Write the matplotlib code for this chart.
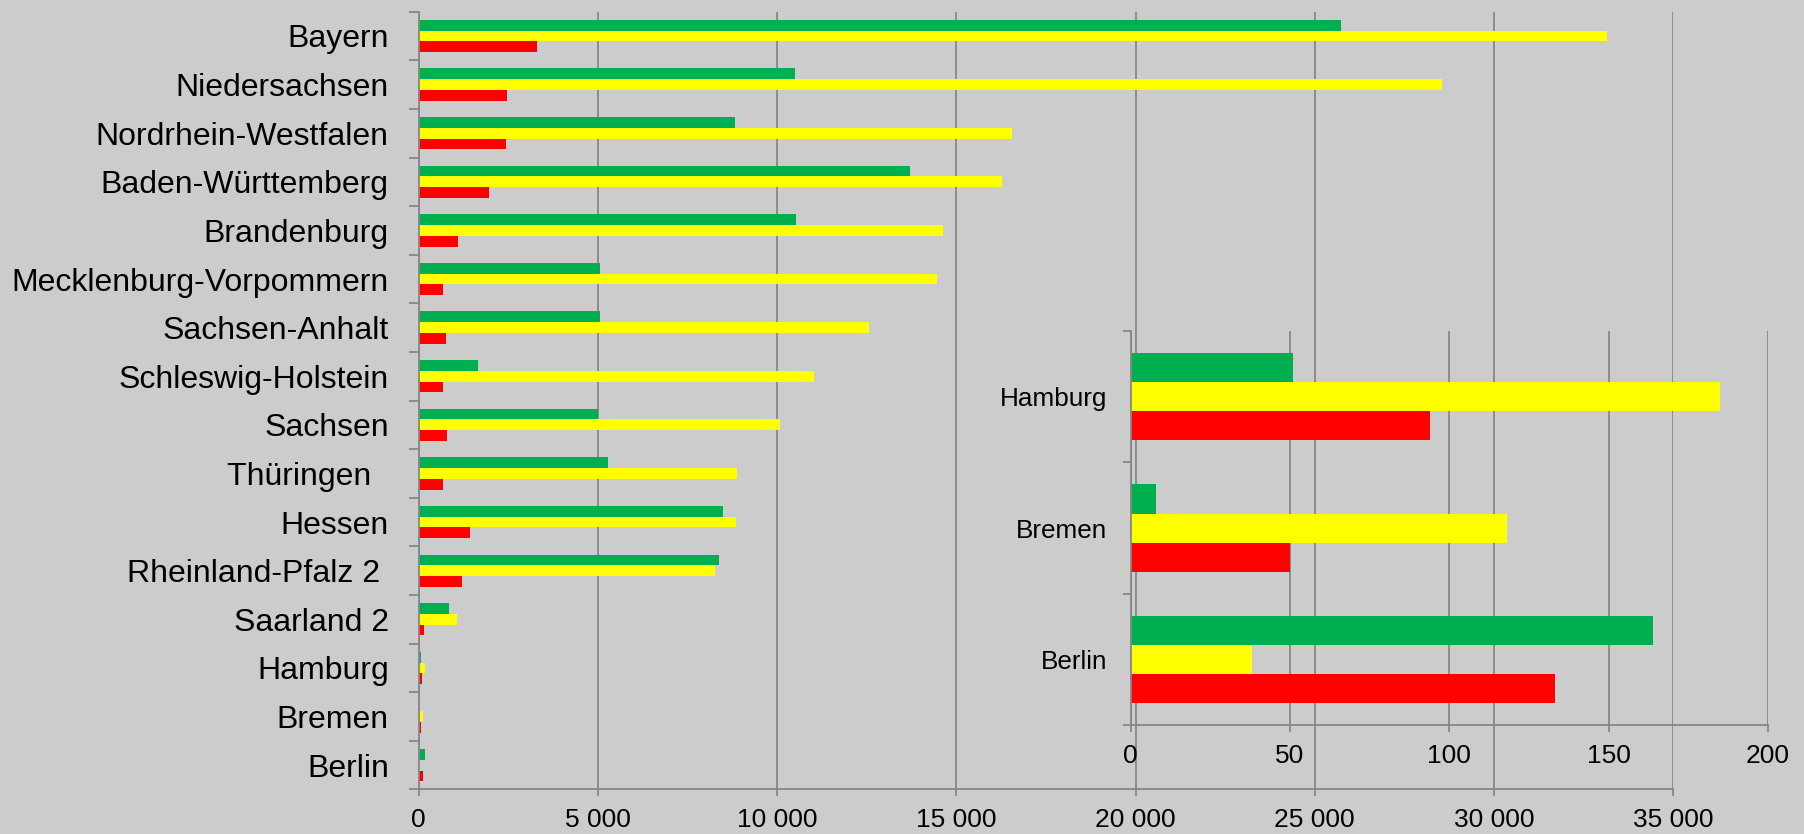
import matplotlib.pyplot as plt
import numpy as np
from matplotlib.ticker import FuncFormatter

plt.rcParams['font.family'] = ['Liberation Sans', 'DejaVu Sans']

# Hauptdiagramm: Bundesländer (oben -> unten)
laender = ["Bayern", "Niedersachsen", "Nordrhein-Westfalen", "Baden-Württemberg",
           "Brandenburg", "Mecklenburg-Vorpommern", "Sachsen-Anhalt", "Schleswig-Holstein",
           "Sachsen", "Thüringen  ", "Hessen", "Rheinland-Pfalz 2 ", "Saarland 2",
           "Hamburg", "Bremen", "Berlin"]
gruen = [25740, 10500, 8830, 13715, 10530, 5070, 5050, 1650,
         4990, 5290, 8480, 8370, 850, 51, 8, 164]
gelb = [33160, 28550, 16560, 16285, 14640, 14470, 12560, 11020,
        10070, 8890, 8850, 8260, 1075, 185, 118, 38]
rot = [3300, 2460, 2430, 1955, 1090, 670, 770, 690,
       785, 690, 1430, 1220, 145, 94, 50, 133]

# Ausschnitt Stadtstaaten
staedte = ["Hamburg", "Bremen", "Berlin"]
st_gruen = [51, 8, 164]
st_gelb = [185, 118, 38]
st_rot = [94, 50, 133]

hg = "#cccccc"
grau = "#878787"
c_gruen, c_gelb, c_rot = "#00b050", "#ffff00", "#ff0000"

def tausend(v, pos):
    return f"{v:,.0f}".replace(",", " ")

fig = plt.figure(figsize=(18.04, 8.34), dpi=100, facecolor=hg)

ax = fig.add_axes([0.2321, 0.0534, 0.6954, 0.9326])
ax.set_facecolor(hg)
y = np.arange(len(laender))
h = 0.2217
ax.barh(y - h, gruen, height=h, color=c_gruen, zorder=2)
ax.barh(y, gelb, height=h, color=c_gelb, zorder=2)
ax.barh(y + h, rot, height=h, color=c_rot, zorder=2)
ax.set_xlim(0, 35000)
ax.set_ylim(len(laender) - 0.5, -0.5)
ax.set_xticks(np.arange(0, 35001, 5000))
ax.xaxis.set_major_formatter(FuncFormatter(tausend))
ax.xaxis.grid(True, color=grau, lw=1.3, zorder=1)
ax.set_yticks(np.arange(-0.5, len(laender), 1))
ax.set_yticks(y, labels=laender, minor=True)
ax.tick_params(axis="y", which="major", length=7, width=1.3, color=grau, labelleft=False)
ax.tick_params(axis="y", which="minor", length=0, pad=21.5, labelsize=23)
ax.tick_params(axis="x", length=5, width=1.3, color=grau, pad=8, labelsize=19)
for s in ["top", "right"]:
    ax.spines[s].set_visible(False)
for s in ["left", "bottom"]:
    ax.spines[s].set_color(grau)
    ax.spines[s].set_linewidth(1.3)

# Inset
ax2 = fig.add_axes([0.6267, 0.1307, 0.3534, 0.4724])
ax2.set_facecolor("none")
y2 = np.arange(len(staedte))
h2 = 0.2209
ax2.barh(y2 - h2, st_gruen, height=h2, color=c_gruen, zorder=2)
ax2.barh(y2, st_gelb, height=h2, color=c_gelb, zorder=2)
ax2.barh(y2 + h2, st_rot, height=h2, color=c_rot, zorder=2)
ax2.set_xlim(0, 200)
ax2.set_ylim(len(staedte) - 0.5, -0.5)
ax2.set_xticks(np.arange(0, 201, 50))
ax2.xaxis.grid(True, color=grau, lw=1.3, zorder=1)
ax2.set_yticks(np.arange(-0.5, len(staedte), 1))
ax2.set_yticks(y2, labels=staedte, minor=True)
ax2.tick_params(axis="y", which="major", length=6, width=1.3, color=grau, labelleft=False)
ax2.tick_params(axis="y", which="minor", length=0, pad=17, labelsize=18.8)
ax2.tick_params(axis="x", length=5, width=1.3, color=grau, pad=8.5, labelsize=19)
for s in ["top", "right"]:
    ax2.spines[s].set_visible(False)
for s in ["left", "bottom"]:
    ax2.spines[s].set_color(grau)
    ax2.spines[s].set_linewidth(1.3)

fig.savefig("out.png", dpi=100, facecolor=hg)
